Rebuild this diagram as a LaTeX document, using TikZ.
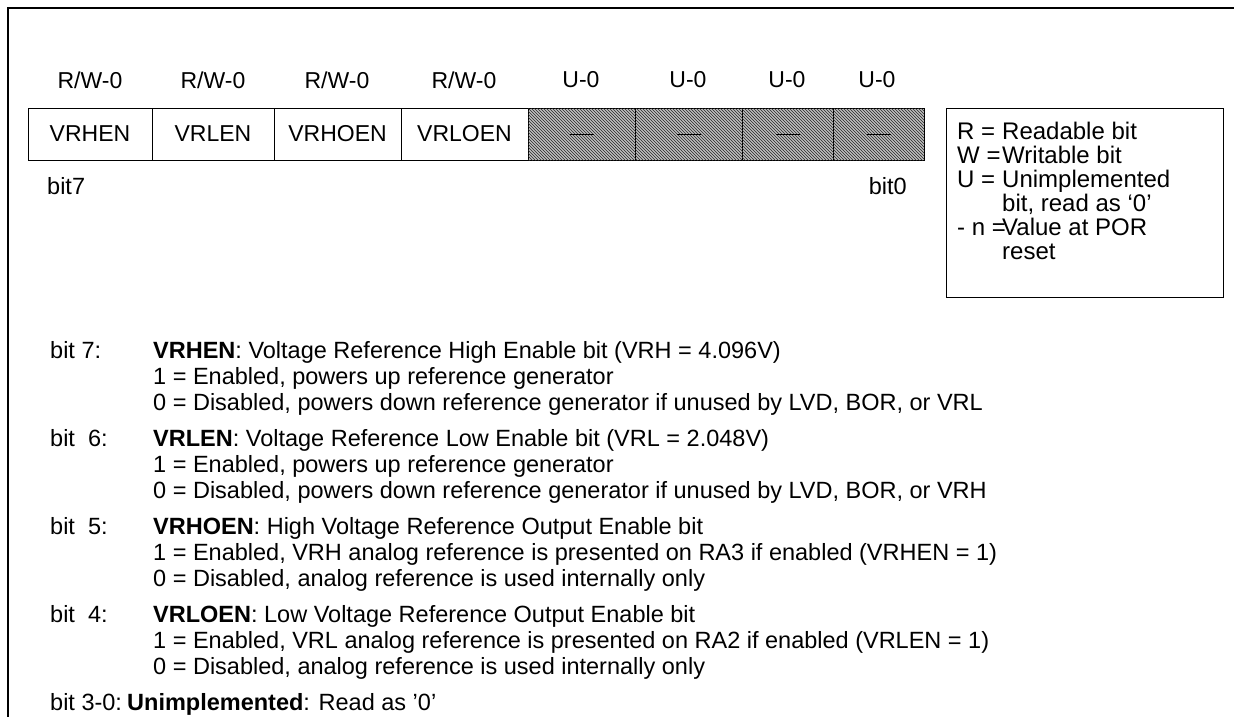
\documentclass[tikz,border=0pt]{standalone}
\usepackage{fontspec}
\setmainfont{Liberation Sans}
\usetikzlibrary{patterns}

\tikzset{
  regcell/.style={draw, line width=1pt, minimum height=52, inner sep=0pt, font=\fontsize{23}{27}\selectfont},
  nacell/.style={regcell, fill=gray!50, postaction={pattern=north west lines, pattern color=black!85}},
  acc/.style={font=\fontsize{23}{27}\selectfont, inner sep=0pt},
  desc/.style={anchor=base west, inner sep=0pt, font=\fontsize{23.5}{28}\selectfont},
  key/.style={anchor=base west, inner sep=0pt, font=\fontsize{24}{28}\selectfont}
}

\begin{document}
\begin{tikzpicture}[x=1pt, y=-1pt]
  \useasboundingbox (0,0) rectangle (1234,717);
  % frame
  \draw[line width=1.5pt] (1234,8) -- (8,8) -- (8,717);

  % access of each bit
  \node[acc] (a7) at (90,80) {R/W-0};
  \node[acc] (a6) at (213,80) {R/W-0};
  \node[acc] (a5) at (337,80) {R/W-0};
  \node[acc] (a4) at (464,80) {R/W-0};
  \node[acc] (a3) at (581,80) {U-0};
  \node[acc] (a2) at (688,80) {U-0};
  \node[acc] (a1) at (787,80) {U-0};
  \node[acc] (a0) at (877,80) {U-0};

  % register cells
  \node[regcell, minimum width=124] (b7) at (90,134) {VRHEN};
  \node[regcell, minimum width=122] (b6) at (213,134) {VRLEN};
  \node[regcell, minimum width=127] (b5) at (337.5,134) {VRHOEN};
  \node[regcell, minimum width=127] (b4) at (464.5,134) {VRLOEN};
  \node[nacell, minimum width=107] (b3) at (581.5,134) {};
  \node[nacell, minimum width=107] (b2) at (688.5,134) {};
  \node[nacell, minimum width=91] (b1) at (787.5,134) {};
  \node[nacell, minimum width=91] (b0) at (878.5,134) {};
  \draw[line width=1pt] ([xshift=-12]b3.center) -- ([xshift=12]b3.center);
  \draw[line width=1pt] ([xshift=-12]b2.center) -- ([xshift=12]b2.center);
  \draw[line width=1pt] ([xshift=-12]b1.center) -- ([xshift=12]b1.center);
  \draw[line width=1pt] ([xshift=-12]b0.center) -- ([xshift=12]b0.center);

  \node[desc, anchor=west] (msb) at (47,186) {bit7};
  \node[desc, anchor=east] (lsb) at (907,186) {bit0};

  % legend
  \node[draw, line width=1pt, minimum width=277, minimum height=189, anchor=north west] (legend) at (946,108) {};
  \node[key] (k1) at (957,139) {\makebox[45pt][l]{R =}Readable bit};
  \node[key] (k2) at (957,163) {\makebox[45pt][l]{W =}Writable bit};
  \node[key] (k3) at (957,187) {\makebox[45pt][l]{U =}Unimplemented};
  \node[key] (k4) at (1002,211) {bit, read as `0'};
  \node[key] (k5) at (957,235) {\makebox[45pt][l]{- n =}Value at POR};
  \node[key] (k6) at (1002,259) {reset};

  % bit descriptions
  \node[desc] (d7) at (50,358) {bit 7:};
  \node[desc] (d7t) at (153,358) {\textbf{VRHEN}: Voltage Reference High Enable bit (VRH = 4.096V)};
  \node[desc] (d7a) at (153,384) {1 = Enabled, powers up reference generator};
  \node[desc] (d7b) at (153,410) {0 = Disabled, powers down reference generator if unused by LVD, BOR, or VRL};

  \node[desc] (d6) at (50,446) {bit\ \ 6:};
  \node[desc] (d6t) at (153,446) {\textbf{VRLEN}: Voltage Reference Low Enable bit (VRL = 2.048V)};
  \node[desc] (d6a) at (153,472) {1 = Enabled, powers up reference generator};
  \node[desc] (d6b) at (153,498) {0 = Disabled, powers down reference generator if unused by LVD, BOR, or VRH};

  \node[desc] (d5) at (50,534) {bit\ \ 5:};
  \node[desc] (d5t) at (153,534) {\textbf{VRHOEN}: High Voltage Reference Output Enable bit};
  \node[desc] (d5a) at (153,560) {1 = Enabled, VRH analog reference is presented on RA3 if enabled (VRHEN = 1)};
  \node[desc] (d5b) at (153,586) {0 = Disabled, analog reference is used internally only};

  \node[desc] (d4) at (50,622) {bit\ \ 4:};
  \node[desc] (d4t) at (153,622) {\textbf{VRLOEN}: Low Voltage Reference Output Enable bit};
  \node[desc] (d4a) at (153,648) {1 = Enabled, VRL analog reference is presented on RA2 if enabled (VRLEN = 1)};
  \node[desc] (d4b) at (153,674) {0 = Disabled, analog reference is used internally only};

  \node[desc] (d30) at (50,710) {bit 3-0:};
  \node[desc] (d30t) at (127,710) {\textbf{Unimplemented}: Read as '0'};
\end{tikzpicture}
\end{document}
